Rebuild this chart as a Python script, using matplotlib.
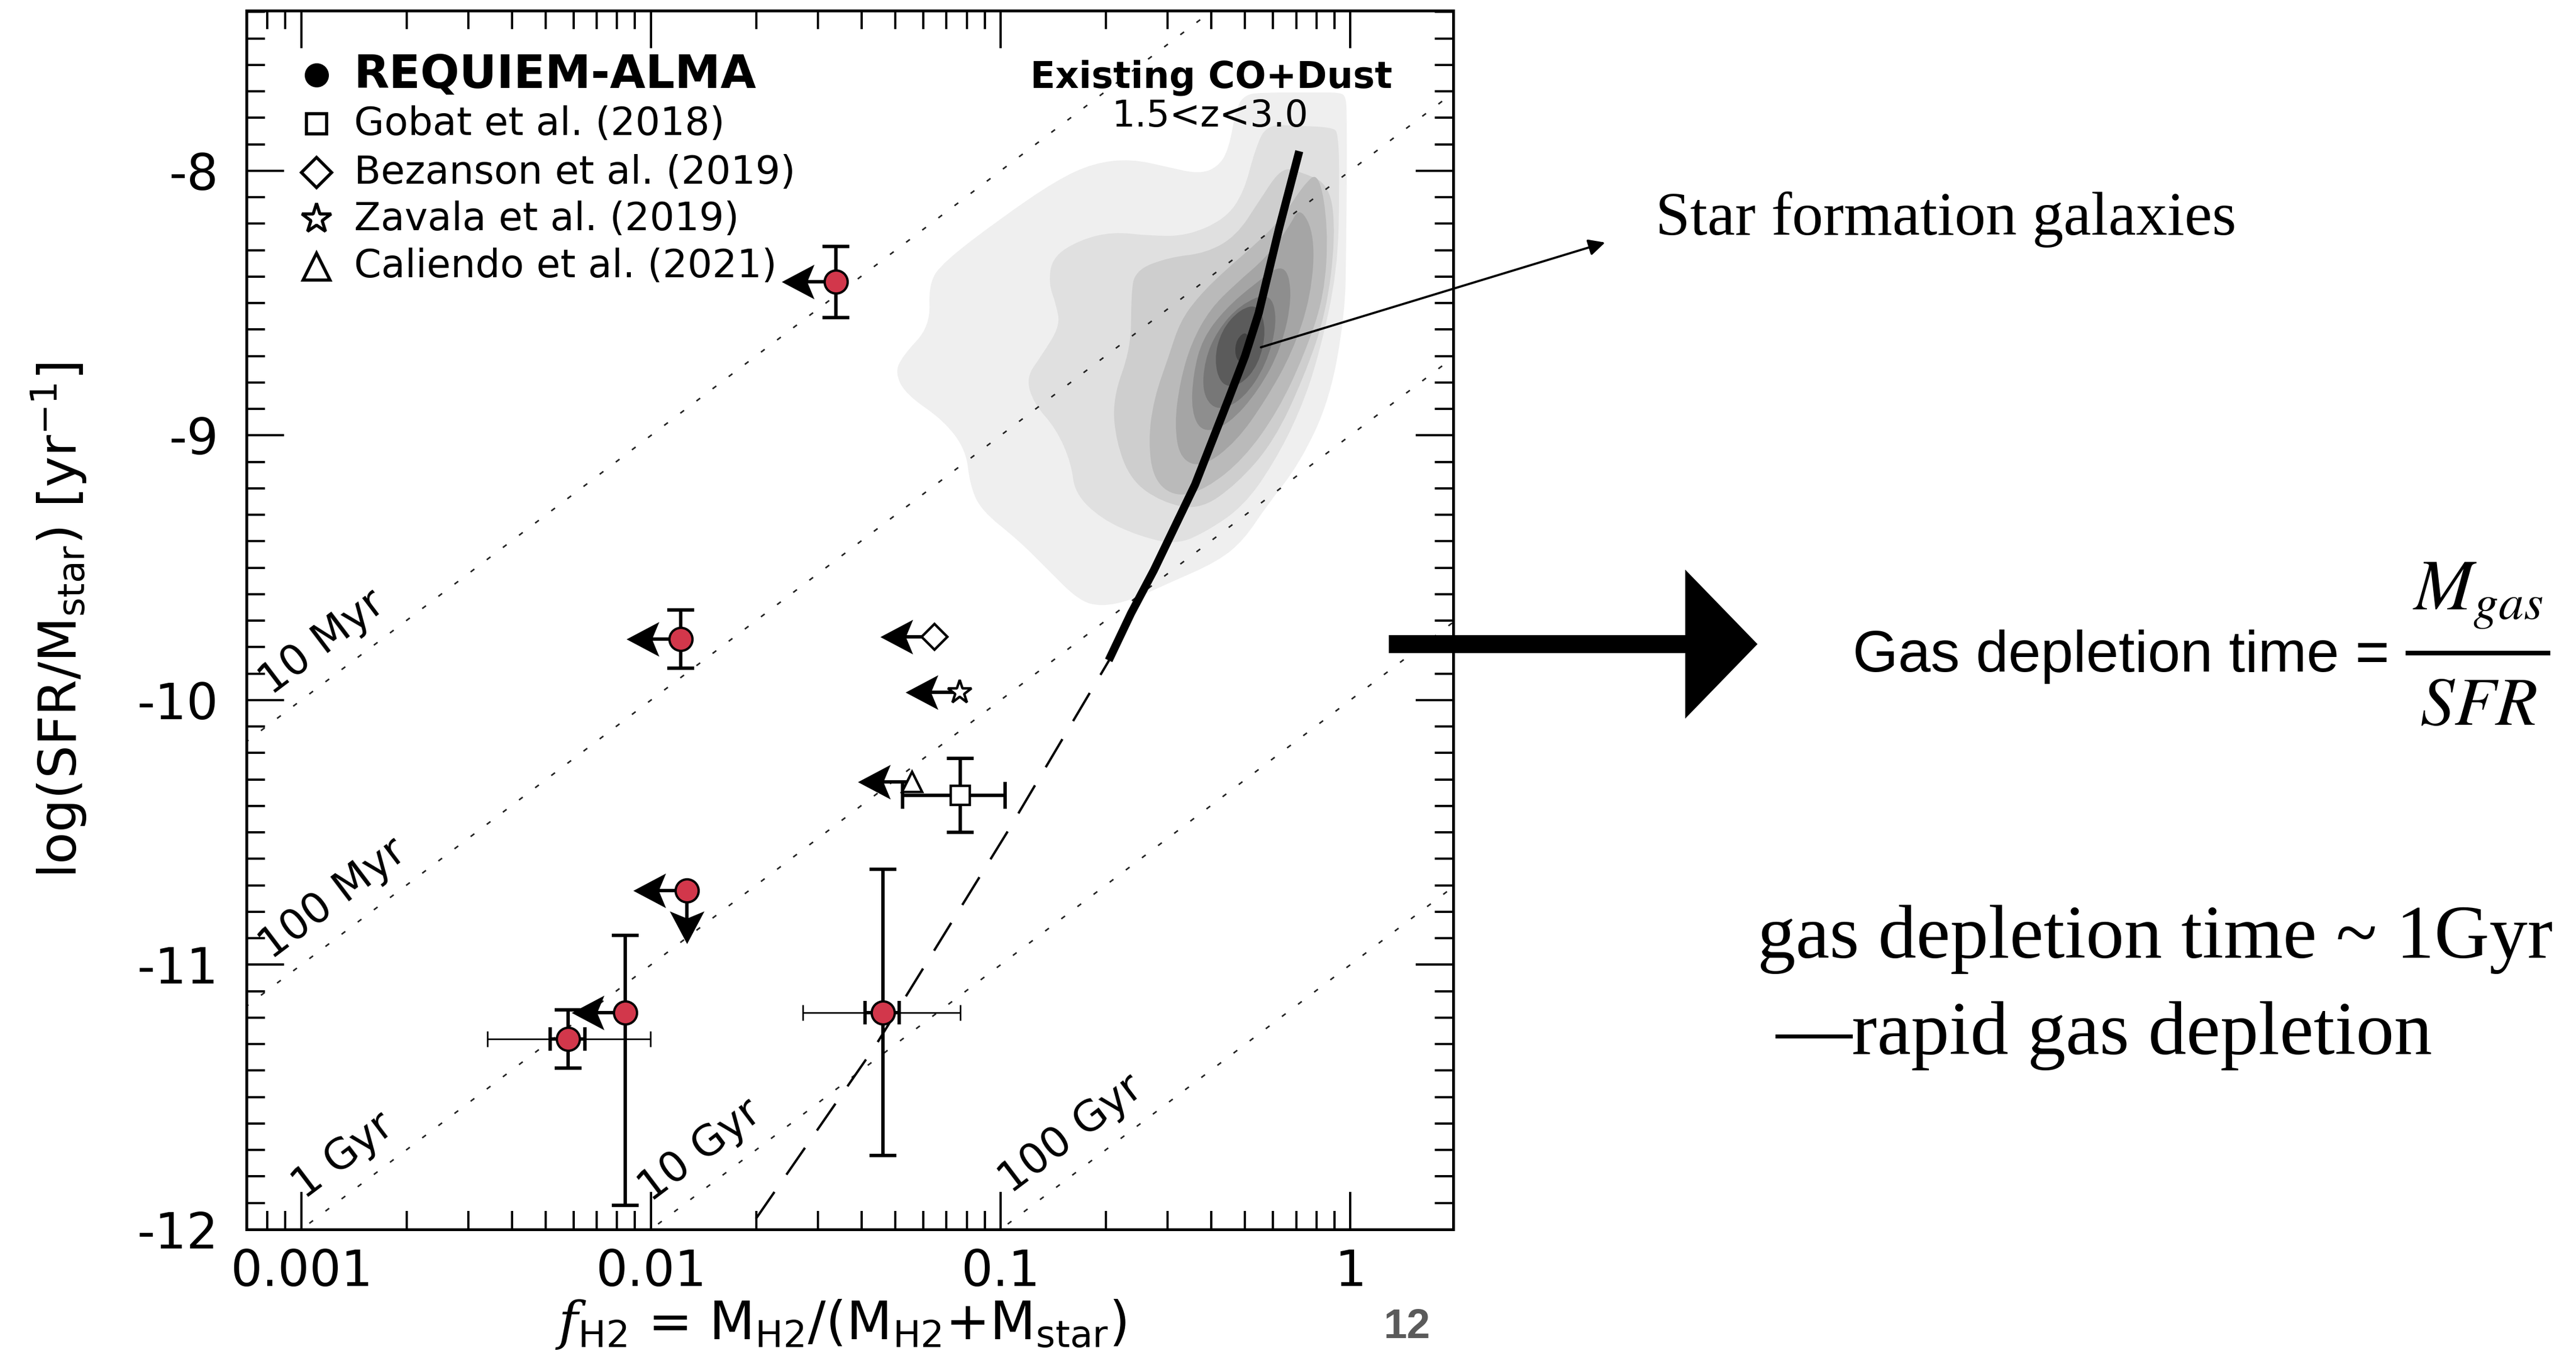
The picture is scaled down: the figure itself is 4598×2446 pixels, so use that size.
import numpy as np
import matplotlib
matplotlib.use("Agg")
import matplotlib.pyplot as plt
from matplotlib.path import Path
from matplotlib.patches import Polygon, PathPatch
from matplotlib.lines import Line2D
from matplotlib.ticker import FixedLocator, LogLocator, MultipleLocator, NullFormatter

plt.rcParams['font.family'] = ['DejaVu Sans']
plt.rcParams['mathtext.fontset'] = 'custom'
plt.rcParams['mathtext.rm'] = 'DejaVu Sans'
plt.rcParams['mathtext.it'] = 'DejaVu Serif:italic'
plt.rcParams['mathtext.bf'] = 'DejaVu Sans:bold'
plt.rcParams['axes.unicode_minus'] = False

# ---------------- data ----------------
# REQUIEM-ALMA lensed quiescent galaxies
req_fh2 = [0.0338, 0.01217, 0.01268, 0.00845, 0.0058, 0.046]
req_lssfr = [-8.42, -9.77, -10.72, -11.18, -11.28, -11.18]
req_lssfr_err_lo = [0.135, 0.11, 0.0, 0.73, 0.11, 0.54]
req_lssfr_err_hi = [0.135, 0.11, 0.0, 0.29, 0.11, 0.54]
req_fh2_is_upper = [True, True, True, True, False, False]
req_lssfr_is_upper = [False, False, True, False, False, False]
# detected sources: statistical (thick) and total (thin) fH2 ranges
req_detected = [4, 5]
req_fh2_stat_lo = [0.00515, 0.0410]
req_fh2_stat_hi = [0.00646, 0.0512]
req_fh2_tot_lo = [0.00341, 0.0272]
req_fh2_tot_hi = [0.00996, 0.0767]

# literature quiescent galaxies
gobat_fh2, gobat_lssfr = 0.0767, -10.36
gobat_lssfr_err = 0.14
gobat_fh2_lo, gobat_fh2_hi = 0.0524, 0.1028
bezanson_fh2, bezanson_lssfr = 0.0647, -9.76
zavala_fh2, zavala_lssfr = 0.0763, -9.97
caliendo_fh2, caliendo_lssfr = 0.0558, -10.31

# constant depletion-time guides
tdep_years = [1e7, 1e8, 1e9, 1e10, 1e11]
tdep_labels = ['10 Myr', '100 Myr', '1 Gyr', '10 Gyr', '100 Gyr']
tdep_label_logf = [-3.07, -3.07, -2.975, -1.985, -0.955]

# main-sequence gas-fraction track
track_dash_logf = [-1.70, -1.36, -0.977, -0.69]
track_dash_lssfr = [-11.96, -11.31, -10.49, -9.85]
track_solid_logf = [-0.691, -0.627, -0.562, -0.503, -0.444, -0.396, -0.348, -0.301,
                    -0.262, -0.203, -0.146]
track_solid_lssfr = [-9.850, -9.672, -9.510, -9.348, -9.186, -9.024, -8.862, -8.700,
                     -8.538, -8.214, -7.926]

# density contours of star-forming galaxies with CO+dust (1.5<z<3), outer -> inner
kde_colors = ['#efefef', '#e0e0e0', '#cecece', '#bababa', '#a5a5a5',
              '#8e8e8e', '#777777', '#5b5b5b', '#424242']
kde_logf = [
    [-0.300, -0.250, -0.100, -0.030, -0.012, -0.010, -0.010, -0.012, -0.015, -0.058, -0.144,
     -0.240, -0.305, -0.380, -0.519, -0.627, -0.713, -0.777, -0.863, -0.949, -1.056, -1.088,
     -1.099, -1.163, -1.270, -1.302, -1.281, -1.201, -1.206, -1.163, -1.002, -0.841, -0.734,
     -0.627, -0.519, -0.433, -0.380, -0.348, -0.326],
    [-0.240, -0.150, -0.050, -0.034, -0.031, -0.036, -0.090, -0.144, -0.219, -0.305, -0.412,
     -0.498, -0.605, -0.713, -0.788, -0.798, -0.841, -0.906, -0.927, -0.884, -0.830, -0.841,
     -0.863, -0.852, -0.777, -0.680, -0.573, -0.466, -0.358, -0.305, -0.273],
    [-0.144, -0.058, -0.042, -0.069, -0.133, -0.219, -0.326, -0.433, -0.541, -0.627, -0.670,
     -0.680, -0.627, -0.627, -0.616, -0.519, -0.412, -0.326, -0.262, -0.197],
    [-0.090, -0.063, -0.074, -0.133, -0.208, -0.305, -0.412, -0.498, -0.562, -0.578, -0.562,
     -0.519, -0.487, -0.433, -0.358, -0.272, -0.197, -0.133],
    [-0.144, -0.101, -0.112, -0.165, -0.240, -0.326, -0.423, -0.487, -0.503, -0.487, -0.455,
     -0.401, -0.326, -0.240, -0.176],
    [-0.187, -0.165, -0.197, -0.262, -0.348, -0.423, -0.455, -0.449, -0.423, -0.358, -0.272],
    [-0.229, -0.208, -0.240, -0.305, -0.380, -0.423, -0.417, -0.380, -0.315],
    [-0.262, -0.240, -0.262, -0.315, -0.369, -0.390, -0.369, -0.315],
    [-0.294, -0.283, -0.310, -0.331, -0.326],
]
kde_lssfr = [
    [-7.712, -7.704, -7.704, -7.704, -7.720, -7.800, -8.052, -8.300, -8.538, -8.862, -9.105,
     -9.267, -9.396, -9.477, -9.558, -9.623, -9.647, -9.623, -9.510, -9.396, -9.283, -9.186,
     -9.056, -8.943, -8.846, -8.765, -8.700, -8.587, -8.425, -8.344, -8.182, -8.036, -7.971,
     -7.955, -7.987, -8.012, -7.987, -7.922, -7.760],
    [-7.825, -7.830, -7.836, -7.860, -8.052, -8.376, -8.700, -8.910, -9.105, -9.267, -9.364,
     -9.413, -9.380, -9.315, -9.218, -9.105, -8.975, -8.878, -8.781, -8.700, -8.587, -8.506,
     -8.425, -8.327, -8.263, -8.230, -8.246, -8.246, -8.182, -8.084, -7.922],
    [-8.003, -8.052, -8.246, -8.538, -8.781, -9.024, -9.186, -9.283, -9.251, -9.170, -9.024,
     -8.862, -8.668, -8.473, -8.376, -8.327, -8.311, -8.246, -8.117, -7.987],
    [-8.003, -8.214, -8.473, -8.700, -8.910, -9.089, -9.202, -9.234, -9.170, -9.024, -8.862,
     -8.700, -8.570, -8.473, -8.376, -8.279, -8.182, -8.052],
    [-8.133, -8.246, -8.473, -8.684, -8.862, -9.024, -9.121, -9.089, -8.959, -8.797, -8.651,
     -8.522, -8.425, -8.327, -8.214],
    [-8.344, -8.473, -8.668, -8.830, -8.959, -8.991, -8.910, -8.765, -8.635, -8.522, -8.425],
    [-8.457, -8.570, -8.732, -8.862, -8.910, -8.846, -8.716, -8.603, -8.506],
    [-8.506, -8.603, -8.732, -8.813, -8.813, -8.716, -8.603, -8.522],
    [-8.603, -8.684, -8.732, -8.700, -8.635],
]


def smooth_outline(logf, lssfr):
    """Closed quadratic-Bezier outline using the listed points as control points."""
    p = np.column_stack([logf, lssfr])
    nxt = np.roll(p, -1, axis=0)
    mids = 0.5 * (p + nxt)
    verts = [mids[-1]]
    codes = [Path.MOVETO]
    for i in range(len(p)):
        verts += [p[i], mids[i]]
        codes += [Path.CURVE3, Path.CURVE3]
    verts = np.array(verts)
    verts[:, 0] = 10 ** verts[:, 0]
    return Path(verts, codes)


# ---------------- figure ----------------
W, H, DPI = 4598, 2446, 200
fig = plt.figure(figsize=(W / DPI, H / DPI), dpi=DPI)
fig.patch.set_facecolor('white')
ax = fig.add_axes([440 / W, 1 - 2195 / H, (2594 - 440) / W, (2195 - 19) / H])
ax.set_xscale('log')
ax.set_xlim(6.97e-4, 1.97)
ax.set_ylim(-12.0, -7.395)

# density contours
for lf, ls, col in zip(kde_logf, kde_lssfr, kde_colors):
    ax.add_patch(PathPatch(smooth_outline(lf, ls), facecolor=col, edgecolor='none', zorder=1))

# constant depletion-time lines
fgrid = np.logspace(-3.3, 0.4, 200)
disp = ax.transData.transform([[1e-3, -11.0], [1e-2, -10.0]])
angle = np.degrees(np.arctan2(disp[1, 1] - disp[0, 1], disp[1, 0] - disp[0, 0]))
for t, lab, lx in zip(tdep_years, tdep_labels, tdep_label_logf):
    ax.plot(fgrid, np.log10(fgrid) - np.log10(t), color='#222222', lw=1.0,
            ls=(0, (3, 10)), zorder=2)
    ax.text(10 ** lx, lx - np.log10(t) + 0.06, lab, rotation=angle,
            rotation_mode='anchor', ha='left', va='bottom', fontsize=27, zorder=2)

# gas-fraction track
ax.plot(10 ** np.array(track_dash_logf), track_dash_lssfr, color='k', lw=1.5,
        ls=(0, (14, 9)), zorder=3)
ax.plot(10 ** np.array(track_solid_logf), track_solid_lssfr, color='k', lw=5.2,
        solid_capstyle='butt', solid_joinstyle='round', zorder=3)

# arrow heads for limits (tip at the origin)
head_left = Path([(0, 0), (1.0, 0.53), (0.78, 0), (1.0, -0.53), (0, 0)],
                 [Path.MOVETO, Path.LINETO, Path.LINETO, Path.LINETO, Path.CLOSEPOLY])
head_down = Path([(0, 0), (0.53, 1.0), (0, 0.78), (-0.53, 1.0), (0, 0)],
                 [Path.MOVETO, Path.LINETO, Path.LINETO, Path.LINETO, Path.CLOSEPOLY])
ARROW_DEX = 0.155
ARROW_Y = 0.2


def left_limit(f, y):
    tip = f * 10 ** (-ARROW_DEX)
    ax.plot([f, tip * 1.03], [y, y], color='k', lw=2.2, zorder=4, solid_capstyle='butt')
    ax.plot([tip], [y], marker=head_left, ms=42, color='k', mew=0, zorder=4)


def down_limit(f, y):
    tip = y - ARROW_Y
    ax.plot([f, f], [y, tip + 0.02], color='k', lw=2.2, zorder=4, solid_capstyle='butt')
    ax.plot([f], [tip], marker=head_down, ms=42, color='k', mew=0, zorder=4)


red = '#d2374b'
for i, (f, y) in enumerate(zip(req_fh2, req_lssfr)):
    if req_lssfr_err_lo[i] > 0:
        ax.errorbar([f], [y], yerr=[[req_lssfr_err_lo[i]], [req_lssfr_err_hi[i]]], fmt='none',
                    ecolor='k', elinewidth=2.2, capsize=8.6, capthick=2.2, zorder=4)
    if req_fh2_is_upper[i]:
        left_limit(f, y)
    if req_lssfr_is_upper[i]:
        down_limit(f, y)

for k, i in enumerate(req_detected):
    f, y = req_fh2[i], req_lssfr[i]
    ax.errorbar([f], [y], xerr=[[f - req_fh2_tot_lo[k]], [req_fh2_tot_hi[k] - f]], fmt='none',
                ecolor='k', elinewidth=1.0, capsize=5.2, capthick=1.0, zorder=4)
    ax.errorbar([f], [y], xerr=[[f - req_fh2_stat_lo[k]], [req_fh2_stat_hi[k] - f]], fmt='none',
                ecolor='k', elinewidth=2.2, capsize=7.5, capthick=2.2, zorder=4)

ax.plot(req_fh2, req_lssfr, ls='none', marker='o', ms=14.8, mfc=red, mec='k', mew=1.5, zorder=6)

# literature points
ax.errorbar([gobat_fh2], [gobat_lssfr], yerr=gobat_lssfr_err,
            xerr=[[gobat_fh2 - gobat_fh2_lo], [gobat_fh2_hi - gobat_fh2]], fmt='none',
            ecolor='k', elinewidth=2.2, capsize=8.6, capthick=2.2, zorder=4)
ax.plot([gobat_fh2], [gobat_lssfr], marker='s', ms=12.2, mfc='white', mec='k', mew=1.6, zorder=6)
for f, y, m, ms in [(bezanson_fh2, bezanson_lssfr, 'D', 11.8),
                    (zavala_fh2, zavala_lssfr, '*', 16.0),
                    (caliendo_fh2, caliendo_lssfr, '^', 13.0)]:
    left_limit(f, y)
    ax.plot([f], [y], marker=m, ms=ms, mfc='white', mec='k', mew=1.6, zorder=6)

# legend (drawn in axes coordinates)
leg_rows = [0.947, 0.907, 0.867, 0.829, 0.790]
leg_labels = ['REQUIEM-ALMA', 'Gobat et al. (2018)', 'Bezanson et al. (2019)',
              'Zavala et al. (2019)', 'Caliendo et al. (2021)']
leg_markers = [('o', 13.5, 'k'), ('s', 13.0, 'white'), ('D', 14.0, 'white'),
               ('*', 20.0, 'white'), ('^', 17.0, 'white')]
for yy, lab, (m, ms, fc) in zip(leg_rows, leg_labels, leg_markers):
    ax.plot([0.058], [yy], marker=m, ms=ms, mfc=fc, mec='k', mew=2.0,
            transform=ax.transAxes, clip_on=False, zorder=7)
    bold = lab.startswith('REQUIEM')
    ax.text(0.0891, yy, lab, transform=ax.transAxes, ha='left', va='center',
            fontsize=29.5 if bold else 25, fontweight='bold' if bold else 'normal', zorder=7)

ax.text(0.7994, 0.945, 'Existing CO+Dust', transform=ax.transAxes, ha='center', va='center',
        fontsize=23.5, fontweight='bold', zorder=7)
ax.text(0.7985, 0.913, '1.5<z<3.0', transform=ax.transAxes, ha='center', va='center',
        fontsize=23.5, zorder=7)

# axes styling
for sp in ax.spines.values():
    sp.set_linewidth(1.8)
ax.xaxis.set_major_locator(FixedLocator([1e-3, 1e-2, 1e-1, 1]))
ax.set_xticklabels(['0.001', '0.01', '0.1', '1'])
ax.xaxis.set_minor_locator(LogLocator(base=10, subs=np.arange(2, 10)))
ax.xaxis.set_minor_formatter(NullFormatter())
ax.set_yticks([-12, -11, -10, -9, -8])
ax.set_yticklabels(['-12', '-11', '-10', '-9', '-8'])
ax.yaxis.set_minor_locator(MultipleLocator(0.1))
ax.tick_params(which='both', direction='in', top=True, right=True, width=1.45)
ax.tick_params(which='major', length=24, labelsize=32)
ax.tick_params(which='minor', length=12)
ax.tick_params(axis='x', which='major', pad=12)
ax.tick_params(axis='y', which='major', pad=18)

ax.set_xlabel(r'$f_{\rm H2}$ = M$_{\rm H2}$/(M$_{\rm H2}$+M$_{\rm star}$)', fontsize=34)
ax.xaxis.set_label_coords(0.4926, -0.056)
ax.set_ylabel(r'log(SFR/M$_{\rm star}$) [yr$^{-1}$]', fontsize=33.5)
ax.yaxis.set_label_coords(-0.131, 0.5)

# ---------------- annotations outside the panel ----------------
ax.annotate('', xy=(2865 / W, 1 - 433 / H), xycoords='figure fraction',
            xytext=(0.555, -8.667), textcoords='data',
            arrowprops=dict(arrowstyle='-|>', color='k', lw=1.4, mutation_scale=22,
                            shrinkA=0, shrinkB=0), annotation_clip=False, zorder=8)
fig.text(2955 / W, 1 - 419 / H, 'Star formation galaxies', family='Liberation Serif',
         fontsize=40, ha='left', va='baseline')

# big arrow pointing to the definition
ar_x0, ar_xh, ar_tip, ar_yc, half_t, half_h = 2479, 3008, 3137, 1150, 16, 133
arrow_px = [(ar_x0, ar_yc - half_t), (ar_xh, ar_yc - half_t), (ar_xh, ar_yc - half_h),
            (ar_tip, ar_yc), (ar_xh, ar_yc + half_h), (ar_xh, ar_yc + half_t),
            (ar_x0, ar_yc + half_t)]
fig.patches.append(Polygon([(x / W, 1 - y / H) for x, y in arrow_px], closed=True,
                           facecolor='k', edgecolor='none', transform=fig.transFigure))

fig.text(3307 / W, 1 - 1199 / H, 'Gas depletion time =', family='Liberation Sans',
         fontsize=37.5, ha='left', va='baseline')
fig.text(4306 / W, 1 - 1088 / H, r'$M_{gas}$', math_fontfamily='stix', fontsize=46,
         ha='left', va='baseline')
fig.lines.append(Line2D([4298 / W, 4548 / W], [1 - 1166 / H, 1 - 1166 / H], color='k',
                        lw=3.0, transform=fig.transFigure))
fig.text(4319 / W, 1 - 1294 / H, r'$SFR$', math_fontfamily='stix', fontsize=44,
         ha='left', va='baseline')

fig.text(3137 / W, 1 - 1710 / H, 'gas depletion time ~ 1Gyr', family='Liberation Serif',
         fontsize=49, ha='left', va='baseline')
fig.text(3170 / W, 1 - 1882 / H, '\u2014rapid gas depletion', family='Liberation Serif',
         fontsize=49, ha='left', va='baseline')

fig.text(2469 / W, 1 - 2389 / H, '12', family='Liberation Sans', fontweight='bold',
         color='#5a5a5a', fontsize=27, ha='left', va='baseline')

fig.savefig('out.png', dpi=DPI, facecolor='white')
